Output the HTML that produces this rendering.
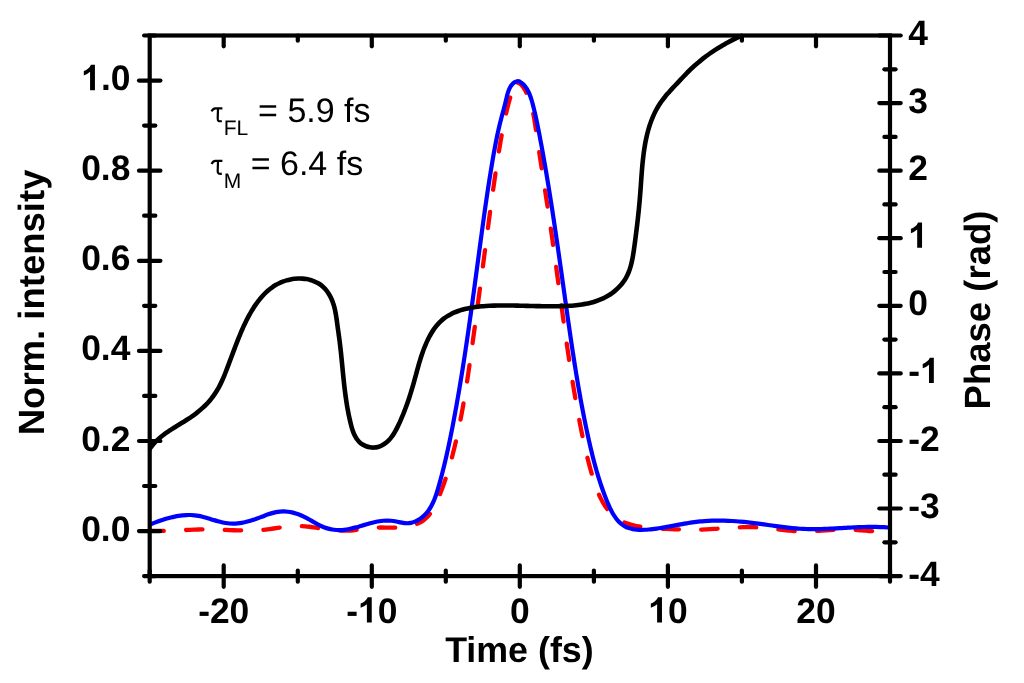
<!DOCTYPE html>
<html><head><meta charset="utf-8"><style>
html,body{margin:0;padding:0;background:#fff;width:1024px;height:683px;overflow:hidden}
svg{display:block;will-change:transform;text-rendering:geometricPrecision}
</style></head><body>
<svg width="1024" height="683" viewBox="0 0 1024 683">
<defs><clipPath id="c"><rect x="149.7" y="35.5" width="740.3" height="540.6"/></clipPath></defs>
<g clip-path="url(#c)" fill="none" stroke-linejoin="round" stroke-linecap="round">
<path d="M149.70,530.73 C150.37,530.76 152.37,530.85 153.70,530.89 C155.03,530.93 156.37,530.95 157.70,530.96 C159.04,530.98 160.37,530.97 161.70,530.96 C163.04,530.95 164.37,530.92 165.70,530.89 C167.04,530.86 168.37,530.82 169.71,530.77 C171.04,530.73 172.37,530.67 173.70,530.61 C175.04,530.56 176.37,530.49 177.70,530.43 C179.03,530.36 180.37,530.29 181.70,530.23 C183.03,530.16 184.36,530.09 185.70,530.02 C187.03,529.95 188.36,529.89 189.69,529.82 C191.03,529.76 192.36,529.70 193.69,529.65 C195.02,529.60 196.36,529.55 197.69,529.51 C199.02,529.47 200.36,529.43 201.69,529.41 C203.03,529.39 204.36,529.37 205.69,529.37 C207.03,529.37 208.36,529.38 209.70,529.39 C211.03,529.41 212.36,529.44 213.70,529.47 C215.03,529.50 216.36,529.55 217.70,529.59 C219.03,529.64 220.36,529.69 221.70,529.74 C223.03,529.79 224.36,529.85 225.70,529.90 C227.03,529.96 228.36,530.02 229.69,530.07 C231.03,530.12 232.36,530.18 233.69,530.23 C235.03,530.28 236.36,530.32 237.69,530.36 C239.03,530.40 240.36,530.43 241.69,530.46 C243.03,530.48 244.36,530.50 245.70,530.50 C247.03,530.51 248.36,530.50 249.70,530.49 C251.03,530.47 252.37,530.44 253.70,530.39 C255.03,530.35 256.36,530.29 257.70,530.21 C259.03,530.13 260.36,530.04 261.69,529.93 C263.02,529.81 264.34,529.68 265.67,529.53 C267.00,529.38 268.32,529.21 269.64,529.04 C270.97,528.87 272.29,528.68 273.61,528.50 C274.93,528.31 276.25,528.12 277.57,527.93 C278.89,527.75 280.21,527.56 281.53,527.38 C282.86,527.20 284.18,527.03 285.50,526.87 C286.83,526.72 288.15,526.57 289.48,526.45 C290.81,526.33 292.14,526.23 293.47,526.15 C294.81,526.08 296.14,526.03 297.47,526.01 C298.81,526.00 300.14,526.01 301.47,526.07 C302.81,526.12 304.14,526.21 305.47,526.33 C306.80,526.44 308.12,526.59 309.45,526.75 C310.77,526.91 312.09,527.10 313.41,527.29 C314.73,527.48 316.05,527.69 317.37,527.89 C318.69,528.09 320.01,528.30 321.33,528.50 C322.64,528.69 323.96,528.89 325.29,529.08 C326.61,529.26 327.93,529.44 329.25,529.60 C330.58,529.76 331.90,529.92 333.23,530.05 C334.56,530.18 335.89,530.30 337.22,530.39 C338.55,530.49 339.88,530.56 341.21,530.61 C342.55,530.66 343.88,530.68 345.21,530.68 C346.55,530.67 347.88,530.63 349.21,530.57 C350.55,530.50 351.88,530.40 353.21,530.28 C354.53,530.17 355.86,530.02 357.19,529.87 C358.51,529.71 359.83,529.54 361.16,529.37 C362.48,529.20 363.80,529.02 365.12,528.85 C366.45,528.67 367.77,528.50 369.10,528.34 C370.42,528.19 371.75,528.04 373.07,527.92 C374.40,527.80 375.73,527.69 377.07,527.62 C378.40,527.55 379.73,527.52 381.07,527.51 C382.40,527.49 383.73,527.51 385.07,527.53 C386.40,527.55 387.74,527.59 389.07,527.61 C390.40,527.63 391.74,527.66 393.07,527.66 C394.40,527.66 395.74,527.65 397.07,527.60 C398.40,527.55 399.74,527.48 401.07,527.37 C402.40,527.26 403.73,527.12 405.05,526.94 C406.37,526.75 407.69,526.54 408.99,526.27 C410.30,526.00 411.60,525.69 412.88,525.31 C414.15,524.94 415.43,524.51 416.66,524.01 C417.90,523.52 419.12,522.96 420.28,522.32 C421.45,521.68 422.58,520.96 423.65,520.16 C424.72,519.37 425.73,518.48 426.68,517.55 C427.63,516.62 428.51,515.61 429.35,514.57 C430.19,513.54 430.96,512.45 431.70,511.34 C432.44,510.23 433.12,509.08 433.78,507.91 C434.43,506.75 435.04,505.56 435.63,504.37 C436.22,503.17 436.77,501.96 437.31,500.74 C437.85,499.52 438.37,498.29 438.87,497.05 C439.38,495.82 439.87,494.58 440.36,493.33 C440.84,492.09 441.32,490.85 441.78,489.60 C442.25,488.35 442.71,487.09 443.16,485.84 C443.61,484.58 444.05,483.32 444.48,482.06 C444.91,480.80 445.34,479.53 445.75,478.27 C446.17,477.00 446.58,475.73 446.98,474.46 C447.38,473.18 447.77,471.91 448.16,470.63 C448.55,469.36 448.93,468.08 449.30,466.80 C449.67,465.51 450.04,464.23 450.40,462.95 C450.76,461.66 451.11,460.38 451.46,459.09 C451.81,457.80 452.15,456.51 452.49,455.22 C452.82,453.93 453.16,452.64 453.48,451.34 C453.81,450.05 454.13,448.76 454.45,447.46 C454.77,446.16 455.08,444.87 455.38,443.57 C455.69,442.27 455.99,440.97 456.29,439.67 C456.59,438.37 456.88,437.07 457.17,435.77 C457.46,434.46 457.74,433.16 458.02,431.86 C458.30,430.55 458.58,429.25 458.85,427.94 C459.12,426.64 459.39,425.33 459.65,424.02 C459.92,422.71 460.18,421.40 460.43,420.10 C460.69,418.79 460.94,417.48 461.19,416.17 C461.44,414.86 461.69,413.54 461.93,412.23 C462.17,410.92 462.41,409.61 462.65,408.29 C462.88,406.98 463.11,405.67 463.34,404.35 C463.57,403.04 463.80,401.73 464.02,400.41 C464.25,399.10 464.47,397.78 464.69,396.46 C464.91,395.15 465.12,393.83 465.34,392.51 C465.55,391.20 465.76,389.88 465.97,388.56 C466.18,387.25 466.39,385.93 466.59,384.61 C466.80,383.29 467.00,381.97 467.20,380.65 C467.40,379.33 467.60,378.02 467.80,376.70 C468.00,375.38 468.19,374.06 468.39,372.74 C468.58,371.42 468.77,370.10 468.96,368.78 C469.15,367.46 469.34,366.14 469.53,364.82 C469.72,363.50 469.91,362.17 470.10,360.85 C470.28,359.53 470.47,358.21 470.65,356.89 C470.84,355.57 471.02,354.25 471.21,352.93 C471.39,351.61 471.57,350.28 471.75,348.96 C471.94,347.64 472.12,346.32 472.30,345.00 C472.48,343.68 472.66,342.35 472.84,341.03 C473.02,339.71 473.21,338.39 473.39,337.07 C473.57,335.75 473.75,334.42 473.93,333.10 C474.11,331.78 474.29,330.46 474.47,329.14 C474.65,327.81 474.83,326.49 475.01,325.17 C475.19,323.85 475.37,322.53 475.54,321.21 C475.72,319.88 475.90,318.56 476.08,317.24 C476.26,315.92 476.44,314.60 476.62,313.27 C476.79,311.95 476.97,310.63 477.15,309.31 C477.33,307.98 477.51,306.66 477.68,305.34 C477.86,304.02 478.04,302.70 478.22,301.37 C478.39,300.05 478.57,298.73 478.75,297.41 C478.93,296.09 479.10,294.76 479.28,293.44 C479.46,292.12 479.63,290.80 479.81,289.47 C479.98,288.15 480.16,286.83 480.34,285.51 C480.51,284.18 480.69,282.86 480.86,281.54 C481.04,280.22 481.22,278.89 481.39,277.57 C481.57,276.25 481.74,274.93 481.92,273.60 C482.09,272.28 482.27,270.96 482.44,269.64 C482.62,268.31 482.79,266.99 482.97,265.67 C483.14,264.35 483.32,263.02 483.49,261.70 C483.67,260.38 483.84,259.06 484.01,257.73 C484.19,256.41 484.36,255.09 484.54,253.77 C484.71,252.44 484.88,251.12 485.06,249.80 C485.23,248.48 485.41,247.15 485.58,245.83 C485.75,244.51 485.93,243.19 486.10,241.86 C486.27,240.54 486.45,239.22 486.62,237.89 C486.79,236.57 486.97,235.25 487.14,233.93 C487.32,232.60 487.49,231.28 487.67,229.96 C487.84,228.64 488.01,227.31 488.19,225.99 C488.36,224.67 488.54,223.35 488.72,222.02 C488.89,220.70 489.07,219.38 489.24,218.06 C489.42,216.73 489.60,215.41 489.78,214.09 C489.95,212.77 490.13,211.45 490.31,210.12 C490.49,208.80 490.67,207.48 490.85,206.16 C491.03,204.84 491.21,203.51 491.39,202.19 C491.57,200.87 491.75,199.55 491.94,198.23 C492.12,196.91 492.30,195.59 492.49,194.26 C492.67,192.94 492.86,191.62 493.05,190.30 C493.23,188.98 493.42,187.66 493.61,186.34 C493.80,185.02 493.99,183.70 494.18,182.38 C494.37,181.06 494.56,179.74 494.75,178.42 C494.95,177.10 495.14,175.78 495.34,174.46 C495.53,173.14 495.73,171.82 495.93,170.50 C496.13,169.18 496.33,167.86 496.53,166.54 C496.73,165.22 496.93,163.90 497.13,162.59 C497.34,161.27 497.54,159.95 497.75,158.63 C497.96,157.31 498.16,156.00 498.38,154.68 C498.59,153.36 498.80,152.04 499.01,150.73 C499.22,149.41 499.44,148.09 499.66,146.78 C499.87,145.46 500.09,144.15 500.32,142.83 C500.54,141.52 500.77,140.20 501.00,138.89 C501.23,137.57 501.46,136.26 501.70,134.95 C501.94,133.63 502.18,132.32 502.42,131.01 C502.67,129.70 502.92,128.39 503.18,127.08 C503.43,125.77 503.70,124.46 503.96,123.16 C504.23,121.85 504.51,120.54 504.79,119.24 C505.07,117.94 505.35,116.63 505.65,115.33 C505.94,114.03 506.24,112.73 506.55,111.43 C506.86,110.13 507.17,108.84 507.50,107.54 C507.82,106.25 508.15,104.96 508.49,103.67 C508.83,102.38 509.18,101.09 509.54,99.81 C509.90,98.52 510.26,97.24 510.64,95.96 C511.02,94.68 511.41,93.40 511.82,92.13 C512.23,90.86 512.65,89.60 513.12,88.35 C513.58,87.10 513.87,85.61 514.63,84.65 C515.39,83.68 517.18,82.91 517.69,82.56" stroke="#ff0000" stroke-width="4.3" stroke-dasharray="16.4,22.3" stroke-dashoffset="2.32"/>
<path d="M517.69,82.56 C518.25,82.90 520.08,83.76 521.07,84.62 C522.05,85.47 522.86,86.60 523.62,87.69 C524.39,88.77 525.02,89.96 525.65,91.14 C526.28,92.31 526.86,93.52 527.41,94.73 C527.96,95.95 528.47,97.18 528.95,98.42 C529.43,99.67 529.87,100.93 530.28,102.20 C530.70,103.46 531.08,104.74 531.44,106.03 C531.79,107.31 532.12,108.61 532.43,109.91 C532.74,111.20 533.02,112.51 533.28,113.81 C533.55,115.12 533.80,116.43 534.03,117.75 C534.27,119.06 534.48,120.38 534.69,121.69 C534.91,123.01 535.11,124.33 535.30,125.65 C535.50,126.97 535.69,128.29 535.88,129.61 C536.08,130.93 536.27,132.25 536.46,133.57 C536.65,134.89 536.85,136.21 537.04,137.53 C537.23,138.85 537.43,140.17 537.63,141.49 C537.82,142.81 538.02,144.13 538.21,145.45 C538.41,146.77 538.61,148.09 538.81,149.40 C539.01,150.72 539.21,152.04 539.41,153.36 C539.61,154.68 539.81,156.00 540.01,157.32 C540.21,158.64 540.41,159.96 540.61,161.28 C540.81,162.59 541.01,163.91 541.21,165.23 C541.41,166.55 541.62,167.87 541.82,169.19 C542.02,170.51 542.22,171.82 542.43,173.14 C542.63,174.46 542.83,175.78 543.04,177.10 C543.24,178.42 543.44,179.74 543.64,181.05 C543.85,182.37 544.05,183.69 544.25,185.01 C544.45,186.33 544.66,187.65 544.86,188.97 C545.06,190.29 545.26,191.60 545.47,192.92 C545.67,194.24 545.87,195.56 546.07,196.88 C546.27,198.20 546.47,199.52 546.67,200.84 C546.87,202.15 547.07,203.47 547.27,204.79 C547.47,206.11 547.67,207.43 547.87,208.75 C548.07,210.07 548.27,211.39 548.47,212.71 C548.66,214.03 548.86,215.35 549.06,216.67 C549.25,217.99 549.45,219.30 549.64,220.62 C549.84,221.94 550.03,223.26 550.22,224.58 C550.42,225.90 550.61,227.22 550.80,228.55 C550.99,229.87 551.18,231.19 551.37,232.51 C551.56,233.83 551.75,235.15 551.94,236.47 C552.12,237.79 552.31,239.11 552.50,240.43 C552.68,241.75 552.87,243.07 553.06,244.39 C553.24,245.72 553.43,247.04 553.61,248.36 C553.79,249.68 553.98,251.00 554.16,252.32 C554.34,253.64 554.53,254.96 554.71,256.29 C554.89,257.61 555.07,258.93 555.25,260.25 C555.43,261.57 555.62,262.89 555.80,264.22 C555.98,265.54 556.16,266.86 556.34,268.18 C556.52,269.50 556.70,270.83 556.88,272.15 C557.06,273.47 557.24,274.79 557.42,276.11 C557.59,277.44 557.77,278.76 557.95,280.08 C558.13,281.40 558.31,282.72 558.49,284.05 C558.67,285.37 558.85,286.69 559.03,288.01 C559.21,289.33 559.38,290.66 559.56,291.98 C559.74,293.30 559.92,294.62 560.10,295.94 C560.28,297.26 560.46,298.59 560.64,299.91 C560.82,301.23 561.00,302.55 561.18,303.87 C561.36,305.20 561.54,306.52 561.72,307.84 C561.90,309.16 562.08,310.48 562.27,311.80 C562.45,313.13 562.63,314.45 562.81,315.77 C562.99,317.09 563.18,318.41 563.36,319.73 C563.54,321.06 563.73,322.38 563.91,323.70 C564.10,325.02 564.28,326.34 564.47,327.66 C564.65,328.98 564.84,330.30 565.03,331.62 C565.21,332.95 565.40,334.27 565.59,335.59 C565.78,336.91 565.97,338.23 566.16,339.55 C566.35,340.87 566.54,342.19 566.73,343.51 C566.92,344.83 567.11,346.15 567.30,347.47 C567.50,348.79 567.69,350.11 567.89,351.43 C568.08,352.75 568.28,354.07 568.48,355.39 C568.67,356.71 568.87,358.03 569.07,359.35 C569.27,360.67 569.47,361.98 569.67,363.30 C569.88,364.62 570.08,365.94 570.28,367.26 C570.49,368.58 570.69,369.89 570.90,371.21 C571.10,372.53 571.31,373.85 571.52,375.17 C571.73,376.48 571.94,377.80 572.15,379.12 C572.37,380.44 572.58,381.75 572.79,383.07 C573.01,384.39 573.23,385.70 573.44,387.02 C573.66,388.33 573.88,389.65 574.10,390.97 C574.32,392.28 574.55,393.60 574.77,394.91 C574.99,396.23 575.22,397.54 575.45,398.86 C575.68,400.17 575.91,401.48 576.14,402.80 C576.37,404.11 576.60,405.43 576.84,406.74 C577.07,408.05 577.31,409.37 577.55,410.68 C577.79,411.99 578.03,413.30 578.27,414.61 C578.51,415.93 578.76,417.24 579.00,418.55 C579.25,419.86 579.50,421.17 579.75,422.48 C580.00,423.79 580.25,425.10 580.51,426.41 C580.77,427.72 581.03,429.03 581.29,430.33 C581.55,431.64 581.82,432.95 582.09,434.26 C582.36,435.56 582.63,436.87 582.91,438.17 C583.19,439.48 583.47,440.78 583.75,442.09 C584.04,443.39 584.33,444.69 584.62,445.99 C584.92,447.29 585.21,448.59 585.52,449.89 C585.82,451.19 586.13,452.49 586.44,453.79 C586.76,455.08 587.08,456.38 587.40,457.67 C587.72,458.97 588.05,460.26 588.39,461.55 C588.72,462.84 589.06,464.13 589.41,465.42 C589.76,466.71 590.11,468.00 590.47,469.28 C590.83,470.57 591.19,471.85 591.56,473.13 C591.93,474.41 592.31,475.69 592.69,476.97 C593.08,478.25 593.47,479.52 593.88,480.79 C594.28,482.06 594.70,483.33 595.13,484.59 C595.57,485.85 596.01,487.11 596.48,488.36 C596.94,489.61 597.42,490.86 597.93,492.09 C598.44,493.33 598.96,494.55 599.51,495.77 C600.06,496.98 600.64,498.19 601.24,499.38 C601.85,500.56 602.48,501.74 603.15,502.89 C603.82,504.05 604.52,505.19 605.26,506.29 C606.00,507.40 606.78,508.49 607.60,509.54 C608.42,510.59 609.28,511.61 610.19,512.59 C611.10,513.56 612.05,514.50 613.05,515.38 C614.05,516.26 615.10,517.10 616.19,517.87 C617.28,518.64 618.41,519.35 619.57,520.00 C620.73,520.66 621.93,521.25 623.15,521.80 C624.36,522.35 625.60,522.85 626.86,523.30 C628.11,523.76 629.38,524.16 630.66,524.53 C631.94,524.91 633.24,525.24 634.54,525.54 C635.83,525.84 637.14,526.11 638.45,526.35 C639.77,526.59 641.08,526.80 642.40,527.00 C643.72,527.19 645.05,527.36 646.37,527.52 C647.70,527.67 649.02,527.80 650.35,527.92 C651.68,528.05 653.01,528.15 654.34,528.25 C655.67,528.35 657.00,528.43 658.34,528.51 C659.67,528.59 661.00,528.66 662.33,528.72 C663.66,528.79 665.00,528.86 666.33,528.92 C667.66,528.98 668.99,529.05 670.33,529.11 C671.66,529.17 672.99,529.23 674.33,529.28 C675.66,529.34 676.99,529.39 678.32,529.44 C679.66,529.49 680.99,529.54 682.32,529.58 C683.66,529.62 684.99,529.65 686.33,529.68 C687.66,529.70 688.99,529.72 690.33,529.73 C691.66,529.75 693.00,529.75 694.33,529.74 C695.66,529.74 697.00,529.72 698.33,529.69 C699.66,529.67 701.00,529.63 702.33,529.58 C703.66,529.54 705.00,529.47 706.33,529.41 C707.66,529.34 708.99,529.27 710.33,529.19 C711.66,529.11 712.99,529.02 714.32,528.93 C715.65,528.84 716.98,528.74 718.31,528.65 C719.64,528.56 720.97,528.46 722.30,528.36 C723.64,528.27 724.97,528.17 726.30,528.08 C727.63,527.99 728.96,527.89 730.29,527.81 C731.62,527.72 732.95,527.64 734.28,527.57 C735.62,527.49 736.95,527.42 738.28,527.37 C739.61,527.31 740.95,527.26 742.28,527.22 C743.61,527.18 744.95,527.15 746.28,527.14 C747.62,527.12 748.95,527.12 750.28,527.13 C751.62,527.14 752.95,527.17 754.29,527.22 C755.62,527.26 756.95,527.33 758.28,527.41 C759.61,527.49 760.95,527.59 762.27,527.70 C763.60,527.81 764.93,527.94 766.26,528.07 C767.59,528.21 768.91,528.35 770.24,528.50 C771.56,528.65 772.89,528.81 774.21,528.97 C775.54,529.12 776.86,529.29 778.19,529.44 C779.51,529.60 780.84,529.76 782.16,529.91 C783.49,530.06 784.81,530.20 786.14,530.34 C787.47,530.47 788.80,530.60 790.13,530.71 C791.46,530.82 792.79,530.92 794.12,530.99 C795.45,531.07 796.78,531.13 798.12,531.18 C799.45,531.22 800.78,531.24 802.12,531.25 C803.45,531.26 804.79,531.25 806.12,531.23 C807.45,531.22 808.79,531.18 810.12,531.14 C811.45,531.10 812.79,531.05 814.12,530.99 C815.45,530.93 816.79,530.87 818.12,530.80 C819.45,530.73 820.78,530.66 822.11,530.58 C823.45,530.51 824.78,530.43 826.11,530.35 C827.44,530.28 828.77,530.20 830.11,530.13 C831.44,530.06 832.77,529.99 834.10,529.92 C835.43,529.86 836.77,529.81 838.10,529.76 C839.43,529.71 840.77,529.67 842.10,529.64 C843.44,529.62 844.77,529.60 846.10,529.60 C847.44,529.60 848.77,529.61 850.11,529.64 C851.44,529.67 852.77,529.72 854.10,529.78 C855.44,529.85 856.77,529.94 858.10,530.03 C859.43,530.13 860.76,530.25 862.09,530.37 C863.42,530.48 864.74,530.61 866.07,530.73 C867.40,530.84 868.73,530.97 870.06,531.06 C871.39,531.16 872.72,531.25 874.06,531.32 C875.39,531.38 876.72,531.43 878.06,531.43 C879.39,531.44 880.72,531.43 882.06,531.36 C883.39,531.30 884.72,531.20 886.05,531.05 C887.37,530.90 889.34,530.56 890.00,530.46" stroke="#ff0000" stroke-width="4.3" stroke-dasharray="16.4,22.3" stroke-dashoffset="2.71"/>
<path d="M148.09,525.37 C148.71,525.12 150.57,524.36 151.81,523.87 C153.05,523.37 154.29,522.89 155.54,522.41 C156.79,521.94 158.04,521.47 159.30,521.03 C160.56,520.58 161.82,520.14 163.09,519.73 C164.36,519.31 165.63,518.91 166.92,518.54 C168.20,518.16 169.49,517.80 170.78,517.48 C172.07,517.15 173.38,516.84 174.68,516.57 C175.99,516.30 177.30,516.05 178.62,515.84 C179.94,515.64 181.27,515.46 182.59,515.32 C183.92,515.19 185.26,515.09 186.59,515.04 C187.92,514.99 189.26,514.98 190.60,515.02 C191.93,515.07 193.27,515.15 194.59,515.30 C195.92,515.44 197.24,515.64 198.55,515.88 C199.87,516.12 201.17,516.43 202.47,516.74 C203.76,517.06 205.05,517.42 206.33,517.79 C207.62,518.16 208.89,518.55 210.17,518.94 C211.45,519.33 212.72,519.74 214.00,520.12 C215.28,520.50 216.56,520.89 217.85,521.25 C219.13,521.60 220.42,521.95 221.72,522.25 C223.03,522.54 224.34,522.82 225.65,523.03 C226.97,523.23 228.30,523.40 229.63,523.49 C230.96,523.59 232.30,523.61 233.64,523.59 C234.97,523.57 236.31,523.48 237.63,523.36 C238.96,523.23 240.29,523.04 241.60,522.82 C242.92,522.60 244.23,522.34 245.53,522.04 C246.83,521.74 248.13,521.40 249.41,521.04 C250.70,520.68 251.97,520.28 253.24,519.87 C254.51,519.45 255.77,519.00 257.03,518.55 C258.28,518.09 259.53,517.61 260.78,517.14 C262.03,516.66 263.27,516.17 264.52,515.71 C265.77,515.24 267.02,514.77 268.29,514.35 C269.55,513.92 270.82,513.50 272.11,513.14 C273.39,512.78 274.69,512.44 276.00,512.18 C277.30,511.92 278.63,511.71 279.96,511.58 C281.28,511.46 282.62,511.41 283.96,511.43 C285.29,511.45 286.63,511.56 287.95,511.72 C289.27,511.88 290.60,512.11 291.90,512.39 C293.20,512.67 294.50,513.02 295.77,513.41 C297.05,513.79 298.31,514.24 299.56,514.72 C300.80,515.21 302.02,515.75 303.23,516.32 C304.44,516.89 305.62,517.52 306.79,518.15 C307.97,518.78 309.13,519.45 310.29,520.11 C311.45,520.78 312.59,521.46 313.75,522.12 C314.91,522.78 316.07,523.45 317.25,524.07 C318.43,524.70 319.62,525.32 320.83,525.88 C322.04,526.44 323.27,526.97 324.52,527.43 C325.77,527.89 327.05,528.30 328.33,528.65 C329.62,529.00 330.93,529.29 332.25,529.51 C333.56,529.74 334.89,529.90 336.22,530.00 C337.55,530.10 338.89,530.13 340.22,530.09 C341.56,530.06 342.89,529.96 344.22,529.82 C345.55,529.67 346.87,529.47 348.18,529.23 C349.50,528.99 350.80,528.71 352.10,528.40 C353.40,528.10 354.69,527.75 355.98,527.40 C357.27,527.05 358.55,526.66 359.83,526.29 C361.11,525.91 362.39,525.51 363.67,525.13 C364.94,524.74 366.22,524.35 367.50,523.98 C368.79,523.62 370.07,523.25 371.37,522.92 C372.66,522.58 373.96,522.26 375.26,521.98 C376.57,521.71 377.88,521.45 379.20,521.25 C380.52,521.04 381.85,520.87 383.18,520.76 C384.51,520.65 385.84,520.58 387.18,520.57 C388.51,520.57 389.85,520.61 391.18,520.73 C392.51,520.84 393.83,521.03 395.15,521.26 C396.46,521.49 397.76,521.83 399.06,522.10 C400.37,522.38 401.67,522.73 402.98,522.93 C404.30,523.12 405.64,523.28 406.97,523.26 C408.30,523.25 409.65,523.10 410.95,522.83 C412.25,522.57 413.54,522.16 414.78,521.67 C416.01,521.19 417.22,520.58 418.37,519.91 C419.52,519.24 420.62,518.47 421.67,517.65 C422.72,516.83 423.73,515.93 424.67,514.99 C425.62,514.06 426.51,513.05 427.34,512.01 C428.18,510.98 428.96,509.88 429.68,508.76 C430.41,507.65 431.08,506.48 431.70,505.31 C432.33,504.13 432.90,502.92 433.44,501.70 C433.98,500.48 434.48,499.23 434.95,497.99 C435.42,496.74 435.85,495.47 436.28,494.21 C436.70,492.94 437.09,491.66 437.48,490.38 C437.87,489.11 438.24,487.82 438.60,486.54 C438.97,485.26 439.34,483.97 439.70,482.68 C440.05,481.40 440.41,480.11 440.76,478.82 C441.10,477.53 441.45,476.24 441.78,474.95 C442.12,473.66 442.46,472.36 442.78,471.07 C443.11,469.77 443.44,468.48 443.76,467.18 C444.08,465.88 444.39,464.59 444.70,463.29 C445.02,461.99 445.32,460.69 445.63,459.39 C445.93,458.09 446.23,456.79 446.52,455.48 C446.82,454.18 447.11,452.88 447.40,451.57 C447.69,450.27 447.97,448.97 448.25,447.66 C448.53,446.35 448.81,445.05 449.09,443.74 C449.36,442.43 449.64,441.13 449.90,439.82 C450.17,438.51 450.44,437.20 450.71,435.89 C450.97,434.58 451.23,433.27 451.49,431.96 C451.75,430.65 452.01,429.34 452.26,428.03 C452.52,426.72 452.77,425.41 453.02,424.10 C453.27,422.79 453.52,421.48 453.77,420.16 C454.02,418.85 454.26,417.54 454.51,416.23 C454.75,414.91 454.99,413.60 455.23,412.29 C455.48,410.97 455.71,409.66 455.95,408.34 C456.19,407.03 456.43,405.71 456.66,404.40 C456.89,403.09 457.13,401.77 457.36,400.45 C457.59,399.14 457.82,397.82 458.05,396.51 C458.27,395.19 458.50,393.88 458.73,392.56 C458.95,391.24 459.17,389.93 459.40,388.61 C459.62,387.29 459.84,385.98 460.06,384.66 C460.28,383.34 460.50,382.02 460.71,380.71 C460.93,379.39 461.15,378.07 461.36,376.75 C461.57,375.43 461.79,374.11 462.00,372.80 C462.21,371.48 462.42,370.16 462.63,368.84 C462.84,367.52 463.05,366.20 463.25,364.88 C463.46,363.56 463.67,362.24 463.87,360.92 C464.08,359.60 464.28,358.28 464.48,356.96 C464.68,355.64 464.89,354.32 465.09,353.00 C465.29,351.68 465.49,350.36 465.68,349.04 C465.88,347.72 466.08,346.40 466.28,345.08 C466.47,343.76 466.67,342.44 466.86,341.12 C467.06,339.79 467.25,338.47 467.44,337.15 C467.64,335.83 467.83,334.51 468.02,333.19 C468.21,331.86 468.40,330.54 468.59,329.22 C468.78,327.90 468.97,326.58 469.16,325.25 C469.35,323.93 469.54,322.61 469.72,321.29 C469.91,319.97 470.10,318.64 470.28,317.32 C470.47,316.00 470.65,314.68 470.84,313.35 C471.02,312.03 471.21,310.71 471.39,309.38 C471.57,308.06 471.76,306.74 471.94,305.42 C472.12,304.09 472.30,302.77 472.49,301.45 C472.67,300.12 472.85,298.80 473.03,297.48 C473.21,296.15 473.39,294.83 473.57,293.51 C473.75,292.18 473.93,290.86 474.11,289.54 C474.29,288.21 474.47,286.89 474.65,285.57 C474.83,284.24 475.00,282.92 475.18,281.60 C475.36,280.27 475.54,278.95 475.72,277.63 C475.90,276.30 476.07,274.98 476.25,273.65 C476.43,272.33 476.61,271.01 476.78,269.68 C476.96,268.36 477.14,267.04 477.32,265.71 C477.49,264.39 477.67,263.07 477.85,261.74 C478.03,260.42 478.20,259.09 478.38,257.77 C478.56,256.45 478.73,255.12 478.91,253.80 C479.09,252.48 479.27,251.15 479.45,249.83 C479.62,248.50 479.80,247.18 479.98,245.86 C480.16,244.53 480.34,243.21 480.51,241.89 C480.69,240.56 480.87,239.24 481.05,237.92 C481.23,236.59 481.41,235.27 481.59,233.95 C481.77,232.62 481.95,231.30 482.13,229.98 C482.31,228.65 482.49,227.33 482.67,226.01 C482.85,224.68 483.03,223.36 483.22,222.04 C483.40,220.71 483.58,219.39 483.77,218.07 C483.95,216.75 484.14,215.42 484.32,214.10 C484.51,212.78 484.70,211.46 484.88,210.13 C485.07,208.81 485.26,207.49 485.45,206.17 C485.64,204.85 485.83,203.52 486.02,202.20 C486.21,200.88 486.40,199.56 486.60,198.24 C486.79,196.92 486.99,195.60 487.18,194.27 C487.38,192.95 487.58,191.63 487.78,190.31 C487.98,188.99 488.18,187.67 488.38,186.35 C488.58,185.03 488.78,183.71 488.99,182.39 C489.19,181.07 489.40,179.75 489.61,178.43 C489.82,177.11 490.03,175.79 490.24,174.48 C490.45,173.16 490.66,171.84 490.88,170.52 C491.09,169.20 491.31,167.88 491.53,166.57 C491.74,165.25 491.97,163.93 492.19,162.62 C492.41,161.30 492.63,159.98 492.86,158.67 C493.09,157.35 493.32,156.03 493.55,154.72 C493.78,153.40 494.01,152.09 494.25,150.77 C494.49,149.46 494.73,148.15 494.98,146.83 C495.22,145.52 495.47,144.21 495.73,142.90 C495.98,141.59 496.24,140.28 496.51,138.97 C496.77,137.66 497.04,136.35 497.32,135.05 C497.60,133.74 497.88,132.43 498.17,131.13 C498.46,129.83 498.76,128.52 499.06,127.22 C499.37,125.92 499.68,124.63 500.00,123.33 C500.32,122.03 500.65,120.74 500.99,119.45 C501.32,118.15 501.66,116.86 502.01,115.57 C502.35,114.28 502.70,112.99 503.04,111.70 C503.38,110.41 503.73,109.12 504.07,107.83 C504.41,106.54 504.74,105.24 505.07,103.95 C505.40,102.65 505.72,101.36 506.04,100.06 C506.35,98.76 506.63,97.46 506.96,96.16 C507.28,94.87 507.58,93.56 508.00,92.29 C508.41,91.03 508.85,89.75 509.44,88.56 C510.03,87.37 510.71,86.18 511.54,85.16 C512.37,84.13 513.32,83.06 514.42,82.39 C515.52,81.72 516.94,81.05 518.15,81.14 C519.36,81.22 520.61,82.16 521.67,82.93 C522.74,83.69 523.68,84.71 524.55,85.71 C525.42,86.72 526.19,87.82 526.89,88.95 C527.60,90.08 528.21,91.28 528.78,92.48 C529.35,93.69 529.84,94.94 530.31,96.19 C530.77,97.44 531.18,98.71 531.57,99.99 C531.96,101.27 532.31,102.55 532.66,103.84 C533.01,105.13 533.33,106.43 533.65,107.73 C533.97,109.02 534.29,110.32 534.59,111.62 C534.90,112.92 535.20,114.22 535.49,115.53 C535.78,116.83 536.07,118.13 536.35,119.44 C536.63,120.75 536.90,122.05 537.17,123.36 C537.44,124.67 537.70,125.98 537.96,127.29 C538.23,128.60 538.48,129.91 538.74,131.22 C538.99,132.53 539.25,133.84 539.50,135.15 C539.75,136.46 540.00,137.78 540.24,139.09 C540.49,140.40 540.74,141.71 540.98,143.03 C541.23,144.34 541.47,145.65 541.71,146.97 C541.95,148.28 542.19,149.59 542.43,150.91 C542.67,152.22 542.91,153.54 543.14,154.85 C543.38,156.17 543.61,157.48 543.84,158.80 C544.08,160.11 544.31,161.43 544.54,162.74 C544.77,164.06 544.99,165.37 545.22,166.69 C545.45,168.01 545.67,169.32 545.90,170.64 C546.12,171.95 546.35,173.27 546.57,174.59 C546.79,175.91 547.01,177.22 547.23,178.54 C547.45,179.86 547.67,181.17 547.88,182.49 C548.10,183.81 548.32,185.13 548.53,186.45 C548.75,187.76 548.96,189.08 549.17,190.40 C549.39,191.72 549.60,193.04 549.81,194.36 C550.02,195.68 550.23,196.99 550.44,198.31 C550.64,199.63 550.85,200.95 551.06,202.27 C551.27,203.59 551.47,204.91 551.68,206.23 C551.88,207.55 552.08,208.87 552.29,210.19 C552.49,211.51 552.69,212.83 552.89,214.15 C553.09,215.47 553.30,216.79 553.49,218.11 C553.69,219.43 553.89,220.75 554.09,222.07 C554.29,223.39 554.49,224.72 554.68,226.04 C554.88,227.36 555.08,228.68 555.27,230.00 C555.47,231.32 555.66,232.64 555.86,233.96 C556.05,235.28 556.25,236.61 556.44,237.93 C556.63,239.25 556.82,240.57 557.02,241.89 C557.21,243.21 557.40,244.53 557.59,245.86 C557.78,247.18 557.97,248.50 558.16,249.82 C558.35,251.14 558.54,252.47 558.73,253.79 C558.92,255.11 559.11,256.43 559.30,257.75 C559.49,259.08 559.68,260.40 559.86,261.72 C560.05,263.04 560.24,264.37 560.43,265.69 C560.61,267.01 560.80,268.33 560.99,269.65 C561.18,270.98 561.36,272.30 561.55,273.62 C561.74,274.94 561.92,276.27 562.11,277.59 C562.29,278.91 562.48,280.23 562.67,281.56 C562.85,282.88 563.04,284.20 563.22,285.52 C563.41,286.85 563.60,288.17 563.78,289.49 C563.97,290.81 564.15,292.14 564.34,293.46 C564.53,294.78 564.71,296.10 564.90,297.43 C565.08,298.75 565.27,300.07 565.46,301.39 C565.64,302.72 565.83,304.04 566.02,305.36 C566.20,306.68 566.39,308.01 566.58,309.33 C566.76,310.65 566.95,311.97 567.14,313.30 C567.33,314.62 567.51,315.94 567.70,317.26 C567.89,318.58 568.08,319.91 568.27,321.23 C568.46,322.55 568.65,323.87 568.84,325.19 C569.03,326.52 569.22,327.84 569.41,329.16 C569.60,330.48 569.79,331.80 569.99,333.12 C570.18,334.45 570.37,335.77 570.57,337.09 C570.76,338.41 570.96,339.73 571.15,341.05 C571.35,342.37 571.55,343.69 571.74,345.01 C571.94,346.34 572.14,347.66 572.34,348.98 C572.54,350.30 572.74,351.62 572.94,352.94 C573.14,354.26 573.35,355.58 573.55,356.90 C573.76,358.22 573.96,359.54 574.17,360.86 C574.37,362.18 574.58,363.50 574.79,364.81 C575.00,366.13 575.21,367.45 575.42,368.77 C575.64,370.09 575.85,371.41 576.06,372.73 C576.28,374.04 576.50,375.36 576.71,376.68 C576.93,378.00 577.15,379.31 577.37,380.63 C577.59,381.95 577.82,383.26 578.04,384.58 C578.27,385.90 578.49,387.21 578.72,388.53 C578.95,389.85 579.18,391.16 579.41,392.48 C579.65,393.79 579.88,395.11 580.12,396.42 C580.35,397.73 580.59,399.05 580.83,400.36 C581.07,401.68 581.31,402.99 581.56,404.30 C581.80,405.62 582.05,406.93 582.30,408.24 C582.55,409.55 582.80,410.86 583.05,412.18 C583.30,413.49 583.56,414.80 583.82,416.11 C584.08,417.42 584.34,418.73 584.60,420.04 C584.86,421.35 585.13,422.66 585.40,423.96 C585.67,425.27 585.94,426.58 586.21,427.89 C586.49,429.19 586.76,430.50 587.04,431.81 C587.32,433.11 587.60,434.42 587.89,435.72 C588.17,437.03 588.46,438.33 588.75,439.64 C589.04,440.94 589.33,442.24 589.63,443.54 C589.93,444.85 590.23,446.15 590.53,447.45 C590.84,448.75 591.14,450.05 591.46,451.35 C591.77,452.64 592.09,453.94 592.41,455.24 C592.73,456.53 593.06,457.83 593.39,459.12 C593.73,460.41 594.06,461.71 594.41,463.00 C594.75,464.29 595.10,465.58 595.46,466.86 C595.82,468.15 596.18,469.43 596.55,470.72 C596.92,472.00 597.30,473.28 597.68,474.56 C598.07,475.84 598.46,477.12 598.86,478.39 C599.26,479.67 599.67,480.94 600.08,482.21 C600.50,483.48 600.92,484.74 601.35,486.01 C601.78,487.27 602.22,488.53 602.67,489.79 C603.12,491.05 603.57,492.30 604.04,493.56 C604.50,494.81 604.97,496.06 605.45,497.30 C605.94,498.55 606.42,499.79 606.93,501.03 C607.43,502.27 607.94,503.50 608.48,504.72 C609.01,505.95 609.56,507.17 610.14,508.37 C610.72,509.57 611.32,510.77 611.96,511.94 C612.61,513.11 613.27,514.27 614.00,515.39 C614.72,516.51 615.47,517.62 616.29,518.67 C617.11,519.72 617.97,520.75 618.90,521.71 C619.83,522.66 620.83,523.57 621.88,524.37 C622.94,525.18 624.07,525.92 625.25,526.54 C626.43,527.16 627.68,527.67 628.94,528.09 C630.20,528.51 631.51,528.82 632.82,529.08 C634.13,529.33 635.46,529.49 636.79,529.62 C638.11,529.74 639.45,529.79 640.79,529.81 C642.12,529.83 643.46,529.80 644.79,529.75 C646.13,529.69 647.46,529.60 648.79,529.49 C650.12,529.38 651.45,529.24 652.78,529.09 C654.10,528.95 655.43,528.78 656.75,528.60 C658.08,528.42 659.40,528.22 660.72,528.01 C662.04,527.81 663.35,527.59 664.67,527.36 C665.99,527.13 667.30,526.90 668.61,526.65 C669.93,526.41 671.24,526.16 672.55,525.92 C673.86,525.67 675.17,525.41 676.49,525.16 C677.80,524.91 679.11,524.66 680.42,524.41 C681.73,524.17 683.05,523.92 684.36,523.69 C685.68,523.46 686.99,523.23 688.31,523.01 C689.63,522.80 690.95,522.59 692.27,522.40 C693.59,522.21 694.92,522.03 696.24,521.87 C697.57,521.71 698.90,521.57 700.23,521.44 C701.55,521.31 702.89,521.20 704.22,521.11 C705.55,521.01 706.88,520.93 708.22,520.86 C709.55,520.79 710.89,520.74 712.22,520.70 C713.55,520.66 714.89,520.63 716.23,520.62 C717.56,520.60 718.90,520.60 720.23,520.61 C721.57,520.62 722.90,520.64 724.24,520.68 C725.57,520.71 726.91,520.76 728.24,520.81 C729.58,520.87 730.91,520.93 732.24,521.01 C733.58,521.08 734.91,521.17 736.24,521.26 C737.57,521.36 738.91,521.46 740.24,521.58 C741.57,521.69 742.90,521.81 744.23,521.94 C745.56,522.07 746.88,522.21 748.21,522.35 C749.54,522.49 750.87,522.65 752.19,522.81 C753.52,522.96 754.84,523.13 756.17,523.30 C757.49,523.47 758.82,523.65 760.14,523.84 C761.46,524.02 762.78,524.20 764.11,524.39 C765.43,524.58 766.75,524.77 768.07,524.97 C769.39,525.16 770.71,525.35 772.04,525.54 C773.36,525.73 774.68,525.92 776.00,526.11 C777.33,526.30 778.65,526.48 779.97,526.66 C781.29,526.84 782.62,527.01 783.94,527.18 C785.27,527.35 786.59,527.51 787.92,527.66 C789.25,527.81 790.58,527.96 791.91,528.09 C793.23,528.22 794.56,528.34 795.90,528.45 C797.23,528.56 798.56,528.66 799.89,528.74 C801.22,528.82 802.56,528.89 803.89,528.94 C805.23,528.99 806.56,529.03 807.90,529.06 C809.23,529.09 810.57,529.11 811.90,529.11 C813.24,529.12 814.57,529.11 815.91,529.10 C817.25,529.08 818.58,529.06 819.92,529.03 C821.25,529.00 822.59,528.96 823.92,528.91 C825.26,528.87 826.59,528.81 827.92,528.76 C829.26,528.70 830.59,528.64 831.93,528.57 C833.26,528.51 834.59,528.44 835.93,528.37 C837.26,528.30 838.59,528.22 839.93,528.15 C841.26,528.08 842.60,528.00 843.93,527.93 C845.26,527.85 846.60,527.78 847.93,527.71 C849.26,527.63 850.60,527.56 851.93,527.50 C853.26,527.43 854.60,527.37 855.93,527.31 C857.27,527.25 858.60,527.19 859.94,527.14 C861.27,527.10 862.60,527.05 863.94,527.02 C865.27,526.98 866.61,526.95 867.95,526.93 C869.28,526.92 870.62,526.90 871.95,526.90 C873.29,526.90 874.62,526.91 875.96,526.94 C877.29,526.96 878.63,526.99 879.96,527.04 C881.30,527.08 882.63,527.14 883.97,527.22 C885.30,527.29 886.63,527.38 887.96,527.48 C889.29,527.59 891.29,527.78 891.95,527.85" stroke="#0000ff" stroke-width="4.2"/>
<path d="M147.52,452.36 C147.87,451.79 148.90,450.06 149.65,448.96 C150.41,447.86 151.21,446.79 152.05,445.74 C152.88,444.70 153.77,443.69 154.68,442.72 C155.59,441.74 156.54,440.79 157.51,439.88 C158.48,438.96 159.49,438.08 160.51,437.22 C161.54,436.36 162.59,435.53 163.65,434.72 C164.72,433.92 165.80,433.13 166.90,432.37 C167.99,431.60 169.11,430.86 170.22,430.12 C171.34,429.39 172.47,428.67 173.60,427.96 C174.73,427.25 175.87,426.55 177.01,425.85 C178.15,425.15 179.30,424.46 180.44,423.77 C181.58,423.07 182.72,422.38 183.86,421.67 C184.99,420.97 186.13,420.26 187.25,419.54 C188.38,418.81 189.50,418.08 190.61,417.33 C191.71,416.58 192.81,415.82 193.89,415.04 C194.98,414.25 196.04,413.45 197.09,412.62 C198.14,411.79 199.18,410.94 200.20,410.08 C201.21,409.21 202.21,408.32 203.19,407.40 C204.16,406.49 205.12,405.56 206.06,404.60 C206.99,403.65 207.90,402.67 208.79,401.67 C209.68,400.67 210.54,399.64 211.37,398.60 C212.21,397.55 213.01,396.49 213.79,395.40 C214.56,394.31 215.31,393.20 216.02,392.07 C216.73,390.94 217.41,389.78 218.07,388.62 C218.73,387.45 219.35,386.27 219.96,385.08 C220.56,383.89 221.14,382.68 221.70,381.47 C222.26,380.25 222.80,379.03 223.33,377.80 C223.86,376.57 224.37,375.34 224.87,374.10 C225.37,372.86 225.86,371.61 226.34,370.37 C226.83,369.12 227.30,367.87 227.77,366.62 C228.25,365.37 228.72,364.12 229.19,362.87 C229.66,361.61 230.12,360.36 230.59,359.11 C231.06,357.86 231.53,356.60 231.99,355.35 C232.46,354.10 232.93,352.85 233.40,351.59 C233.87,350.34 234.34,349.09 234.82,347.84 C235.29,346.59 235.77,345.34 236.25,344.10 C236.74,342.85 237.22,341.60 237.71,340.36 C238.21,339.12 238.70,337.88 239.21,336.64 C239.71,335.40 240.22,334.17 240.74,332.93 C241.26,331.70 241.79,330.47 242.33,329.25 C242.87,328.02 243.41,326.80 243.97,325.59 C244.53,324.38 245.10,323.17 245.69,321.97 C246.28,320.76 246.87,319.57 247.49,318.38 C248.10,317.19 248.73,316.01 249.38,314.84 C250.02,313.67 250.69,312.51 251.37,311.36 C252.05,310.21 252.75,309.07 253.47,307.94 C254.19,306.82 254.93,305.70 255.69,304.61 C256.46,303.51 257.24,302.42 258.05,301.36 C258.85,300.29 259.69,299.24 260.55,298.22 C261.40,297.20 262.29,296.19 263.20,295.22 C264.12,294.24 265.06,293.29 266.03,292.37 C267.00,291.45 268.00,290.56 269.03,289.71 C270.06,288.86 271.12,288.05 272.22,287.28 C273.31,286.51 274.43,285.77 275.58,285.09 C276.73,284.41 277.91,283.78 279.11,283.20 C280.31,282.62 281.55,282.09 282.79,281.61 C284.04,281.14 285.32,280.72 286.60,280.35 C287.88,279.98 289.19,279.67 290.50,279.41 C291.81,279.15 293.13,278.94 294.46,278.80 C295.79,278.65 297.13,278.56 298.46,278.53 C299.80,278.50 301.14,278.52 302.47,278.61 C303.80,278.71 305.14,278.86 306.45,279.08 C307.77,279.31 309.08,279.60 310.36,279.96 C311.65,280.33 312.92,280.76 314.15,281.27 C315.39,281.78 316.60,282.36 317.76,283.02 C318.92,283.67 320.05,284.41 321.11,285.21 C322.17,286.02 323.19,286.91 324.13,287.85 C325.07,288.80 325.94,289.82 326.76,290.88 C327.57,291.93 328.32,293.05 329.01,294.19 C329.70,295.33 330.33,296.52 330.91,297.72 C331.49,298.93 332.01,300.16 332.49,301.41 C332.96,302.66 333.38,303.93 333.76,305.21 C334.14,306.49 334.47,307.79 334.78,309.09 C335.09,310.39 335.35,311.70 335.60,313.02 C335.85,314.33 336.06,315.65 336.27,316.97 C336.48,318.29 336.66,319.62 336.85,320.94 C337.03,322.27 337.20,323.59 337.38,324.92 C337.56,326.24 337.74,327.57 337.93,328.89 C338.11,330.21 338.30,331.54 338.49,332.86 C338.67,334.19 338.86,335.51 339.04,336.84 C339.22,338.16 339.40,339.49 339.57,340.81 C339.74,342.14 339.90,343.46 340.06,344.79 C340.22,346.12 340.37,347.45 340.52,348.78 C340.67,350.11 340.82,351.43 340.96,352.76 C341.10,354.09 341.24,355.42 341.37,356.75 C341.51,358.08 341.64,359.41 341.77,360.74 C341.90,362.08 342.03,363.41 342.16,364.74 C342.29,366.07 342.42,367.40 342.55,368.73 C342.68,370.06 342.81,371.39 342.94,372.72 C343.07,374.05 343.20,375.38 343.34,376.71 C343.47,378.04 343.61,379.37 343.75,380.70 C343.89,382.03 344.03,383.36 344.18,384.69 C344.33,386.02 344.48,387.35 344.64,388.67 C344.80,390.00 344.96,391.33 345.14,392.66 C345.31,393.98 345.48,395.31 345.67,396.63 C345.85,397.96 346.04,399.28 346.24,400.60 C346.44,401.92 346.65,403.24 346.87,404.56 C347.08,405.88 347.31,407.20 347.54,408.52 C347.78,409.83 348.02,411.15 348.28,412.46 C348.53,413.77 348.80,415.08 349.07,416.39 C349.35,417.70 349.64,419.00 349.94,420.31 C350.24,421.61 350.54,422.91 350.87,424.21 C351.20,425.50 351.54,426.80 351.92,428.08 C352.31,429.36 352.71,430.64 353.19,431.88 C353.67,433.13 354.18,434.37 354.78,435.56 C355.39,436.75 356.05,437.93 356.82,439.01 C357.59,440.10 358.45,441.15 359.41,442.07 C360.37,442.99 361.45,443.82 362.57,444.52 C363.70,445.22 364.93,445.81 366.18,446.27 C367.42,446.73 368.73,447.08 370.05,447.30 C371.36,447.52 372.71,447.62 374.04,447.57 C375.37,447.51 376.72,447.33 378.00,446.99 C379.28,446.66 380.55,446.15 381.74,445.56 C382.93,444.96 384.06,444.23 385.14,443.44 C386.21,442.65 387.22,441.76 388.18,440.83 C389.13,439.90 390.03,438.89 390.87,437.86 C391.71,436.82 392.49,435.73 393.24,434.62 C393.98,433.51 394.66,432.36 395.32,431.19 C395.98,430.03 396.60,428.84 397.20,427.65 C397.80,426.46 398.37,425.25 398.94,424.04 C399.51,422.83 400.06,421.61 400.60,420.38 C401.14,419.16 401.66,417.93 402.18,416.70 C402.70,415.47 403.20,414.23 403.70,412.98 C404.19,411.74 404.67,410.50 405.15,409.25 C405.62,407.99 406.08,406.74 406.54,405.48 C406.99,404.22 407.43,402.96 407.87,401.70 C408.30,400.43 408.73,399.17 409.15,397.90 C409.56,396.63 409.97,395.35 410.38,394.08 C410.78,392.80 411.17,391.53 411.56,390.25 C411.95,388.97 412.33,387.69 412.70,386.40 C413.08,385.12 413.45,383.83 413.81,382.55 C414.17,381.26 414.53,379.97 414.89,378.68 C415.24,377.39 415.59,376.10 415.94,374.81 C416.29,373.52 416.64,372.23 416.99,370.94 C417.34,369.65 417.69,368.36 418.05,367.07 C418.41,365.79 418.78,364.50 419.15,363.22 C419.53,361.93 419.91,360.65 420.31,359.38 C420.70,358.10 421.11,356.82 421.53,355.55 C421.95,354.29 422.38,353.02 422.84,351.76 C423.29,350.51 423.75,349.25 424.24,348.01 C424.73,346.76 425.23,345.52 425.76,344.29 C426.28,343.06 426.83,341.84 427.40,340.63 C427.97,339.42 428.56,338.22 429.18,337.04 C429.80,335.86 430.45,334.68 431.13,333.53 C431.81,332.38 432.52,331.25 433.26,330.14 C434.01,329.03 434.79,327.94 435.61,326.89 C436.43,325.83 437.28,324.80 438.19,323.82 C439.09,322.83 440.04,321.88 441.03,320.99 C442.01,320.09 443.05,319.23 444.12,318.43 C445.18,317.62 446.29,316.87 447.42,316.16 C448.55,315.45 449.72,314.79 450.90,314.17 C452.09,313.56 453.30,312.99 454.53,312.46 C455.76,311.93 457.01,311.45 458.27,311.00 C459.52,310.55 460.80,310.15 462.08,309.77 C463.37,309.40 464.66,309.06 465.96,308.75 C467.26,308.44 468.57,308.17 469.88,307.92 C471.20,307.66 472.52,307.44 473.84,307.24 C475.16,307.04 476.49,306.87 477.81,306.71 C479.14,306.55 480.47,306.42 481.80,306.30 C483.14,306.18 484.47,306.08 485.80,305.99 C487.14,305.90 488.47,305.83 489.81,305.77 C491.14,305.71 492.48,305.66 493.82,305.62 C495.15,305.58 496.49,305.56 497.83,305.53 C499.16,305.51 500.50,305.49 501.84,305.49 C503.17,305.48 504.51,305.47 505.85,305.48 C507.18,305.48 508.52,305.49 509.86,305.50 C511.20,305.52 512.53,305.53 513.87,305.56 C515.21,305.58 516.54,305.60 517.88,305.63 C519.22,305.66 520.55,305.69 521.89,305.72 C523.23,305.76 524.56,305.79 525.90,305.83 C527.24,305.86 528.57,305.90 529.91,305.93 C531.25,305.97 532.58,306.00 533.92,306.03 C535.26,306.07 536.59,306.10 537.93,306.13 C539.27,306.15 540.60,306.18 541.94,306.20 C543.28,306.22 544.61,306.24 545.95,306.25 C547.29,306.27 548.62,306.28 549.96,306.28 C551.30,306.28 552.64,306.28 553.97,306.27 C555.31,306.26 556.65,306.24 557.98,306.22 C559.32,306.19 560.66,306.16 561.99,306.12 C563.33,306.08 564.67,306.03 566.00,305.97 C567.34,305.91 568.67,305.84 570.01,305.75 C571.34,305.67 572.67,305.57 574.01,305.46 C575.34,305.34 576.67,305.21 578.00,305.05 C579.32,304.89 580.65,304.72 581.97,304.52 C583.29,304.32 584.61,304.09 585.92,303.84 C587.24,303.58 588.55,303.30 589.84,302.98 C591.14,302.67 592.44,302.32 593.71,301.94 C594.99,301.55 596.27,301.13 597.52,300.67 C598.78,300.21 600.02,299.71 601.24,299.18 C602.47,298.64 603.68,298.07 604.86,297.45 C606.05,296.84 607.22,296.18 608.36,295.49 C609.50,294.80 610.63,294.07 611.72,293.29 C612.81,292.52 613.88,291.71 614.91,290.86 C615.94,290.02 616.94,289.13 617.90,288.20 C618.86,287.27 619.79,286.31 620.68,285.30 C621.56,284.30 622.40,283.26 623.19,282.18 C623.98,281.10 624.72,279.99 625.41,278.84 C626.10,277.70 626.73,276.51 627.31,275.31 C627.89,274.11 628.41,272.87 628.89,271.62 C629.37,270.38 629.80,269.11 630.20,267.83 C630.60,266.56 630.95,265.27 631.28,263.97 C631.61,262.68 631.90,261.37 632.17,260.06 C632.45,258.75 632.69,257.44 632.92,256.12 C633.15,254.80 633.36,253.48 633.56,252.16 C633.77,250.84 633.95,249.52 634.14,248.19 C634.33,246.87 634.50,245.54 634.68,244.22 C634.86,242.89 635.04,241.57 635.21,240.24 C635.39,238.92 635.56,237.59 635.73,236.26 C635.90,234.94 636.07,233.61 636.24,232.29 C636.40,230.96 636.57,229.63 636.73,228.30 C636.89,226.98 637.05,225.65 637.21,224.32 C637.36,222.99 637.52,221.67 637.67,220.34 C637.82,219.01 637.96,217.68 638.11,216.35 C638.25,215.02 638.39,213.69 638.53,212.36 C638.67,211.03 638.80,209.70 638.94,208.37 C639.07,207.04 639.19,205.71 639.32,204.38 C639.44,203.05 639.56,201.72 639.68,200.38 C639.79,199.05 639.91,197.72 640.01,196.39 C640.12,195.05 640.23,193.72 640.33,192.39 C640.43,191.06 640.53,189.72 640.62,188.39 C640.72,187.05 640.81,185.72 640.90,184.39 C641.00,183.05 641.09,181.72 641.18,180.39 C641.28,179.05 641.37,177.72 641.47,176.38 C641.56,175.05 641.66,173.72 641.77,172.38 C641.87,171.05 641.98,169.72 642.09,168.39 C642.20,167.05 642.32,165.72 642.44,164.39 C642.57,163.06 642.70,161.73 642.84,160.40 C642.98,159.07 643.13,157.74 643.29,156.41 C643.45,155.09 643.62,153.76 643.80,152.43 C643.98,151.11 644.17,149.79 644.37,148.47 C644.58,147.14 644.79,145.82 645.02,144.51 C645.26,143.19 645.50,141.88 645.77,140.57 C646.03,139.26 646.31,137.95 646.60,136.64 C646.90,135.34 647.21,134.04 647.55,132.75 C647.88,131.45 648.23,130.16 648.61,128.88 C648.98,127.59 649.38,126.32 649.80,125.05 C650.21,123.78 650.65,122.51 651.12,121.26 C651.59,120.01 652.07,118.76 652.59,117.53 C653.11,116.30 653.65,115.07 654.22,113.86 C654.79,112.65 655.38,111.46 656.01,110.27 C656.63,109.09 657.29,107.93 657.97,106.78 C658.65,105.63 659.36,104.49 660.11,103.38 C660.85,102.27 661.62,101.18 662.42,100.10 C663.21,99.03 664.04,97.98 664.88,96.94 C665.72,95.90 666.58,94.87 667.45,93.86 C668.32,92.85 669.22,91.85 670.11,90.86 C671.01,89.87 671.92,88.89 672.83,87.91 C673.74,86.93 674.66,85.96 675.57,84.98 C676.49,84.01 677.41,83.04 678.32,82.06 C679.24,81.09 680.15,80.11 681.07,79.14 C681.98,78.16 682.90,77.19 683.82,76.22 C684.74,75.25 685.66,74.28 686.60,73.33 C687.53,72.37 688.47,71.42 689.43,70.49 C690.39,69.55 691.35,68.63 692.33,67.72 C693.31,66.81 694.30,65.91 695.31,65.03 C696.31,64.14 697.32,63.27 698.35,62.41 C699.37,61.55 700.40,60.70 701.45,59.87 C702.49,59.03 703.55,58.21 704.61,57.40 C705.68,56.59 706.75,55.79 707.83,55.01 C708.91,54.23 710.01,53.45 711.11,52.69 C712.21,51.94 713.32,51.19 714.43,50.45 C715.55,49.72 716.68,49.00 717.81,48.29 C718.94,47.58 720.08,46.88 721.23,46.20 C722.38,45.51 723.54,44.84 724.70,44.18 C725.86,43.52 727.03,42.88 728.21,42.24 C729.39,41.61 730.57,40.98 731.76,40.37 C732.95,39.77 734.15,39.17 735.35,38.58 C736.55,38.00 737.76,37.43 738.98,36.87 C740.19,36.31 741.41,35.76 742.64,35.23 C743.86,34.69 745.09,34.17 746.33,33.66 C747.56,33.15 749.43,32.42 750.05,32.17" stroke="#000" stroke-width="4.6"/>
</g>
<g stroke="#000" stroke-width="4.2" stroke-linecap="round" fill="none">
<rect x="149.7" y="35.5" width="740.3" height="540.6" stroke-linecap="butt" stroke-linejoin="miter"/>
<line x1="144.1" y1="576.1" x2="155.3" y2="576.1"/>
<line x1="139.0" y1="531.1" x2="160.4" y2="531.1"/>
<line x1="144.1" y1="486.0" x2="155.3" y2="486.0"/>
<line x1="139.0" y1="441.0" x2="160.4" y2="441.0"/>
<line x1="144.1" y1="395.9" x2="155.3" y2="395.9"/>
<line x1="139.0" y1="350.9" x2="160.4" y2="350.9"/>
<line x1="144.1" y1="305.8" x2="155.3" y2="305.8"/>
<line x1="139.0" y1="260.8" x2="160.4" y2="260.8"/>
<line x1="144.1" y1="215.7" x2="155.3" y2="215.7"/>
<line x1="139.0" y1="170.7" x2="160.4" y2="170.7"/>
<line x1="144.1" y1="125.6" x2="155.3" y2="125.6"/>
<line x1="139.0" y1="80.6" x2="160.4" y2="80.6"/>
<line x1="144.1" y1="35.5" x2="155.3" y2="35.5"/>
<line x1="879.3" y1="576.1" x2="900.7" y2="576.1"/>
<line x1="884.4" y1="542.3" x2="895.6" y2="542.3"/>
<line x1="879.3" y1="508.5" x2="900.7" y2="508.5"/>
<line x1="884.4" y1="474.7" x2="895.6" y2="474.7"/>
<line x1="879.3" y1="441.0" x2="900.7" y2="441.0"/>
<line x1="884.4" y1="407.2" x2="895.6" y2="407.2"/>
<line x1="879.3" y1="373.4" x2="900.7" y2="373.4"/>
<line x1="884.4" y1="339.6" x2="895.6" y2="339.6"/>
<line x1="879.3" y1="305.8" x2="900.7" y2="305.8"/>
<line x1="884.4" y1="272.0" x2="895.6" y2="272.0"/>
<line x1="879.3" y1="238.2" x2="900.7" y2="238.2"/>
<line x1="884.4" y1="204.4" x2="895.6" y2="204.4"/>
<line x1="879.3" y1="170.7" x2="900.7" y2="170.7"/>
<line x1="884.4" y1="136.9" x2="895.6" y2="136.9"/>
<line x1="879.3" y1="103.1" x2="900.7" y2="103.1"/>
<line x1="884.4" y1="69.3" x2="895.6" y2="69.3"/>
<line x1="879.3" y1="35.5" x2="900.7" y2="35.5"/>
<line x1="149.7" y1="570.5" x2="149.7" y2="581.7"/>
<line x1="223.7" y1="565.4" x2="223.7" y2="586.8"/>
<line x1="297.8" y1="570.5" x2="297.8" y2="581.7"/>
<line x1="371.8" y1="565.4" x2="371.8" y2="586.8"/>
<line x1="445.8" y1="570.5" x2="445.8" y2="581.7"/>
<line x1="519.8" y1="565.4" x2="519.8" y2="586.8"/>
<line x1="593.9" y1="570.5" x2="593.9" y2="581.7"/>
<line x1="667.9" y1="565.4" x2="667.9" y2="586.8"/>
<line x1="741.9" y1="570.5" x2="741.9" y2="581.7"/>
<line x1="816.0" y1="565.4" x2="816.0" y2="586.8"/>
<line x1="890.0" y1="570.5" x2="890.0" y2="581.7"/>
<line x1="223.7" y1="35.5" x2="223.7" y2="46.3"/>
<line x1="297.8" y1="35.5" x2="297.8" y2="40.7"/>
<line x1="371.8" y1="35.5" x2="371.8" y2="46.3"/>
<line x1="445.8" y1="35.5" x2="445.8" y2="40.7"/>
<line x1="519.8" y1="35.5" x2="519.8" y2="46.3"/>
<line x1="593.9" y1="35.5" x2="593.9" y2="40.7"/>
<line x1="667.9" y1="35.5" x2="667.9" y2="46.3"/>
<line x1="741.9" y1="35.5" x2="741.9" y2="40.7"/>
<line x1="816.0" y1="35.5" x2="816.0" y2="46.3"/>
</g>
<g font-family="Liberation Sans" font-weight="bold" font-size="35.4" fill="#000">
<text x="81.19" y="540.65">0.0</text>
<text x="81.19" y="450.55">0.2</text>
<text x="81.19" y="360.45">0.4</text>
<text x="81.19" y="270.35">0.6</text>
<text x="81.19" y="180.25">0.8</text>
<path transform="translate(81.19,90.15) scale(0.01729,-0.01729)" d="M795,0H514V1059Q360,915,152,846V1101Q261,1137,389,1236Q517,1336,565,1466H795Z"/><text x="100.88" y="90.15">.0</text>
<text x="908.30" y="585.70">-4</text>
<text x="908.30" y="518.12">-3</text>
<text x="908.30" y="450.55">-2</text>
<text x="908.30" y="382.98">-</text><path transform="translate(920.09,382.98) scale(0.01729,-0.01729)" d="M795,0H514V1059Q360,915,152,846V1101Q261,1137,389,1236Q517,1336,565,1466H795Z"/>
<text x="908.30" y="315.40">0</text>
<path transform="translate(908.30,247.83) scale(0.01729,-0.01729)" d="M795,0H514V1059Q360,915,152,846V1101Q261,1137,389,1236Q517,1336,565,1466H795Z"/>
<text x="908.30" y="180.25">2</text>
<text x="908.30" y="112.67">3</text>
<text x="908.30" y="45.10">4</text>
<text x="198.15" y="622.50">-20</text>
<text x="346.21" y="622.50">-</text><path transform="translate(358.00,622.50) scale(0.01729,-0.01729)" d="M795,0H514V1059Q360,915,152,846V1101Q261,1137,389,1236Q517,1336,565,1466H795Z"/><text x="377.68" y="622.50">0</text>
<text x="510.01" y="622.50">0</text>
<path transform="translate(648.22,622.50) scale(0.01729,-0.01729)" d="M795,0H514V1059Q360,915,152,846V1101Q261,1137,389,1236Q517,1336,565,1466H795Z"/><text x="667.91" y="622.50">0</text>
<text x="796.28" y="622.50">20</text>
</g>
<text font-family="Liberation Sans" font-weight="bold" font-size="35.8" x="519.4" y="662.2" text-anchor="middle">Time (fs)</text>
<text font-family="Liberation Sans" font-weight="bold" font-size="36.5" transform="translate(43.8,302.4) rotate(-90)" text-anchor="middle">Norm. intensity</text>
<text font-family="Liberation Sans" font-weight="bold" font-size="36.5" transform="translate(990.3,310.0) rotate(-90)" text-anchor="middle">Phase (rad)</text>
<g font-family="Liberation Sans" fill="#000"><path d="M211.60,111.40 C212.30,109.60 213.50,108.40 215.50,108.30 L222.40,108.30 M218.00,108.80 L217.70,118.60 C217.60,121.00 219.00,121.60 221.80,121.10" fill="none" stroke="#000" stroke-width="2.2"/><text x="223.8" y="134.9" font-size="21">FL</text><text x="258.1" y="121.5" font-size="34" xml:space="preserve">= 5.9 fs</text><path d="M211.60,164.00 C212.30,162.20 213.50,161.00 215.50,160.90 L222.40,160.90 M218.00,161.40 L217.70,171.20 C217.60,173.60 219.00,174.20 221.80,173.70" fill="none" stroke="#000" stroke-width="2.2"/><text x="223.8" y="188.3" font-size="21">M</text><text x="250.7" y="175.3" font-size="34" xml:space="preserve">= 6.4 fs</text></g>
</svg>
</body></html>
